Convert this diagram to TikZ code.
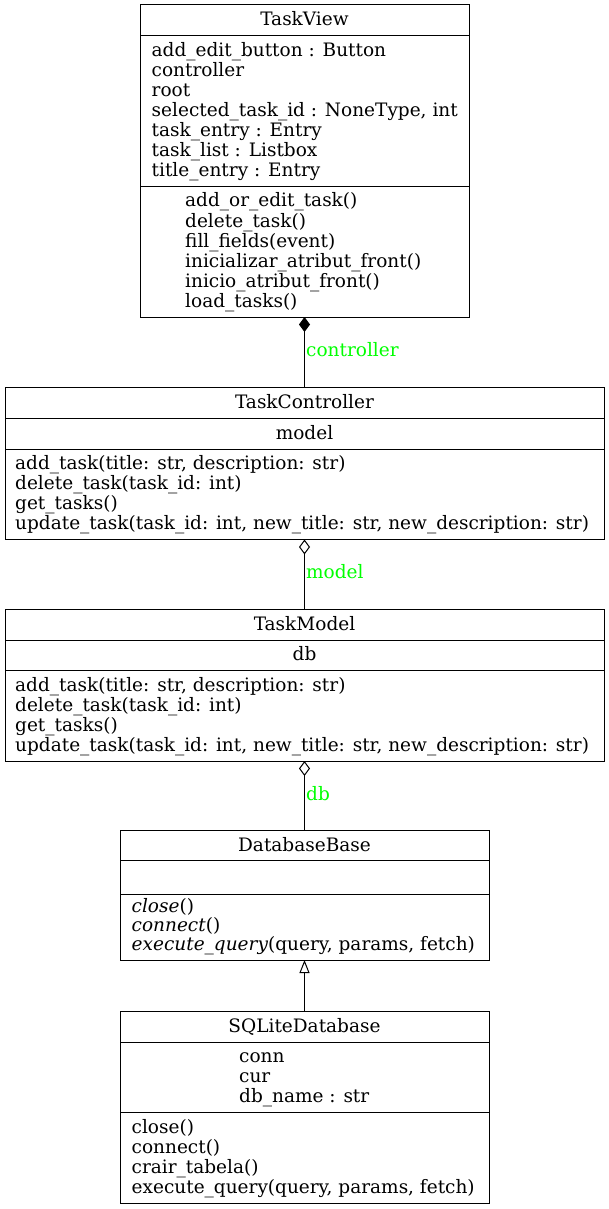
\documentclass[tikz,border=0pt]{standalone}
\usepackage{fontspec}
\setmainfont{DejaVu Serif}
\usetikzlibrary{arrows.meta}
\definecolor{rolegreen}{RGB}{0,255,0}
\tikzset{
  classbox/.style={draw, line width=1pt, inner sep=0pt, outer sep=0pt, anchor=north west},
  member/.style={font=\fontsize{18.5}{20}\selectfont, inner sep=0pt, anchor=base west},
  classname/.style={member, anchor=base},
  rolename/.style={member, text=rolegreen},
  link/.style={line width=1pt},
}

\begin{document}
\begin{tikzpicture}[x=1pt, y=-1pt]
  \useasboundingbox (0,0) rectangle (609,1209);

  % TaskView
  \node[classbox, minimum width=329pt, minimum height=312pt] (view) at (140,5) {};
  \draw[link] ([yshift=-31pt]view.north west) -- ([yshift=-31pt]view.north east);
  \draw[link] ([yshift=-181.5pt]view.north west) -- ([yshift=-181.5pt]view.north east);
  \node[classname] (view-name) at ([yshift=-21pt]view.north) {TaskView};
  \foreach \t [count=\i] in {add\_edit\_button : Button, controller, root,
      {selected\_task\_id : NoneType, int}, task\_entry : Entry,
      task\_list : Listbox, title\_entry : Entry}
    \node[member] (view-a\i) at (151.5, 36.5+20*\i) {\t};
  \foreach \t [count=\i] in {add\_or\_edit\_task(), delete\_task(), fill\_fields(event),
      inicializar\_atribut\_front(), inicio\_atribut\_front(), load\_tasks()}
    \node[member] (view-m\i) at (185, 187+20*\i) {\t};

  % TaskController
  \node[classbox, minimum width=599pt, minimum height=152pt] (ctrl) at (5,387.5) {};
  \draw[link] ([yshift=-31pt]ctrl.north west) -- ([yshift=-31pt]ctrl.north east);
  \draw[link] ([yshift=-61.5pt]ctrl.north west) -- ([yshift=-61.5pt]ctrl.north east);
  \node[classname] (ctrl-name) at ([yshift=-21pt]ctrl.north) {TaskController};
  \node[classname] (ctrl-a1) at ([yshift=-51.5pt]ctrl.north) {model};
  \foreach \t [count=\i] in {{add\_task(title: str, description: str)}, delete\_task(task\_id: int),
      get\_tasks(), {update\_task(task\_id: int, new\_title: str, new\_description: str)}}
    \node[member] (ctrl-m\i) at (15, 449.5+20*\i) {\t};

  % TaskModel
  \node[classbox, minimum width=599pt, minimum height=152pt] (model) at (5,609) {};
  \draw[link] ([yshift=-31pt]model.north west) -- ([yshift=-31pt]model.north east);
  \draw[link] ([yshift=-61.5pt]model.north west) -- ([yshift=-61.5pt]model.north east);
  \node[classname] (model-name) at ([yshift=-21pt]model.north) {TaskModel};
  \node[classname] (model-a1) at ([yshift=-51.5pt]model.north) {db};
  \foreach \t [count=\i] in {{add\_task(title: str, description: str)}, delete\_task(task\_id: int),
      get\_tasks(), {update\_task(task\_id: int, new\_title: str, new\_description: str)}}
    \node[member] (model-m\i) at (15, 671+20*\i) {\t};

  % DatabaseBase (abstract)
  \node[classbox, minimum width=369pt, minimum height=130pt] (dbbase) at (120,830) {};
  \draw[link] ([yshift=-30.5pt]dbbase.north west) -- ([yshift=-30.5pt]dbbase.north east);
  \draw[link] ([yshift=-64.5pt]dbbase.north west) -- ([yshift=-64.5pt]dbbase.north east);
  \node[classname] (dbbase-name) at ([yshift=-21pt]dbbase.north) {DatabaseBase};
  \foreach \t/\p [count=\i] in {close/{()}, connect/{()}, execute\_query/{(query, params, fetch)}}
    \node[member] (dbbase-m\i) at (131.5, 893.5+19*\i) {\textit{\t}\p};

  % SQLiteDatabase
  \node[classbox, minimum width=369pt, minimum height=192pt] (sqlite) at (120,1011) {};
  \draw[link] ([yshift=-31pt]sqlite.north west) -- ([yshift=-31pt]sqlite.north east);
  \draw[link] ([yshift=-101.5pt]sqlite.north west) -- ([yshift=-101.5pt]sqlite.north east);
  \node[classname] (sqlite-name) at ([yshift=-21pt]sqlite.north) {SQLiteDatabase};
  \foreach \t [count=\i] in {conn, cur, db\_name : str}
    \node[member] (sqlite-a\i) at (239, 1042.5+20*\i) {\t};
  \foreach \t [count=\i] in {close(), connect(), crair\_tabela(), {execute\_query(query, params, fetch)}}
    \node[member] (sqlite-m\i) at (131.5, 1113+20*\i) {\t};

  % Relations
  \draw[link, -{Diamond[length=15pt, width=11pt]}] (ctrl.north) -- (view.south);
  \node[rolename] (role-ctrl) at (306,356.5) {controller};
  \draw[link, -{Diamond[open, length=15pt, width=11pt]}] (model.north) -- (ctrl.south);
  \node[rolename] (role-model) at (306,578.5) {model};
  \draw[link, -{Diamond[open, length=15pt, width=11pt]}] (dbbase.north) -- (model.south);
  \node[rolename] (role-db) at (306,800) {db};
  \draw[link, -{Triangle[open, length=13pt, width=10pt]}] (sqlite.north) -- (dbbase.south);
\end{tikzpicture}
\end{document}
